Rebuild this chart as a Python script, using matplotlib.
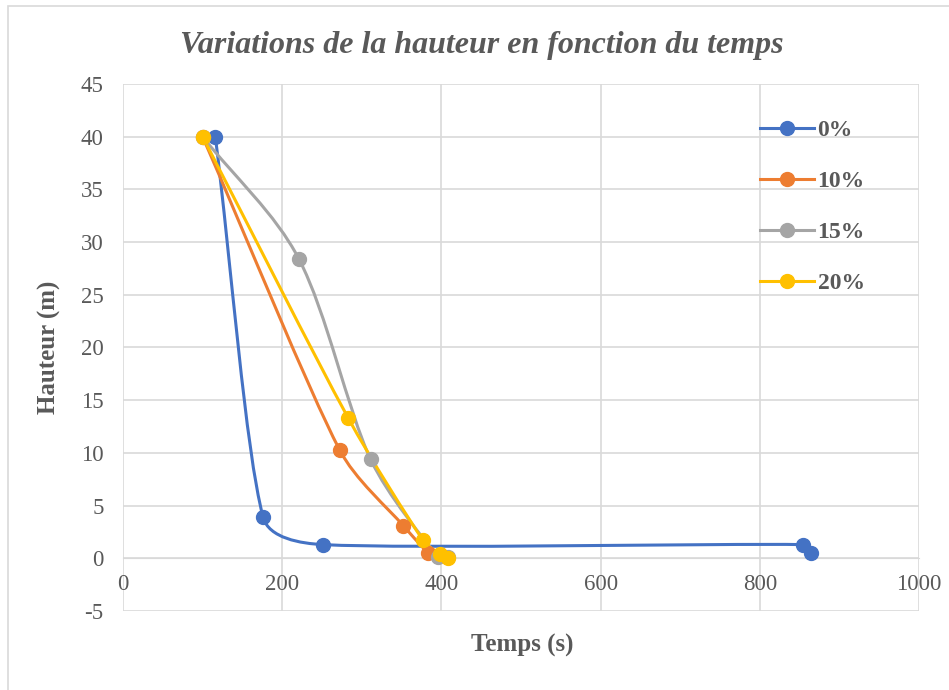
import numpy as np
import matplotlib
matplotlib.use("Agg")
import matplotlib.pyplot as plt
from matplotlib.path import Path
from matplotlib.patches import PathPatch, Rectangle
from matplotlib.lines import Line2D

plt.rcParams['font.family'] = ['Liberation Serif', 'DejaVu Serif']
plt.rcParams['axes.unicode_minus'] = False

# hauteur (m) en fonction du temps (s) pour chaque teneur
series = ['0%', '10%', '15%', '20%']
t_0 = [116, 176, 251, 854, 864]
h_0 = [40, 3.9, 1.3, 1.3, 0.5]
t_10 = [100, 272, 352, 383]
h_10 = [40, 10.3, 3.1, 0.5]
t_15 = [100, 221, 311, 396, 408]
h_15 = [40, 28.4, 9.4, 0.1, 0.1]
t_20 = [100, 283, 377, 398, 408]
h_20 = [40, 13.3, 1.7, 0.4, 0.0]
colors = ['#4472C4', '#ED7D31', '#A5A5A5', '#FFC000']

xmin, xmax = 0, 1000
ymin, ymax = -5, 45
W, H = 949, 690
grey = '#D9D9D9'
txt = '#595959'

fig = plt.figure(figsize=(W / 100, H / 100), dpi=100)
fig.patches.append(Rectangle((8 / W, -0.5), 1.5, 0.5 + (H - 6) / H,
                             transform=fig.transFigure, fill=False,
                             edgecolor=grey, lw=1.2))
ax = fig.add_axes([123 / W, 1 - 611 / H, (919 - 123) / W, (611 - 84) / H])


def smooth_path(x, y, pw, ph):
    # smoothed line through the points, tangents limited so short segments don't overshoot
    u = (np.asarray(x, float) - xmin) / (xmax - xmin) * pw
    v = (np.asarray(y, float) - ymin) / (ymax - ymin) * ph
    p = np.column_stack([u, v])
    n = len(p)
    tang = []
    for i in range(n):
        a = p[max(i - 1, 0)]
        b = p[min(i + 1, n - 1)]
        d = b - a
        tang.append((d / np.hypot(*d), np.hypot(*d)))
    verts = [p[0]]
    codes = [Path.MOVETO]
    for i in range(n - 1):
        L = np.hypot(*(p[i + 1] - p[i]))
        t1, c1len = tang[i]
        t2, c2len = tang[i + 1]
        k1 = c1len / 6 if 0 < i else L / 3
        k2 = c2len / 6 if i + 1 < n - 1 else L / 3
        c1 = p[i] + t1 * min(k1, L / 3)
        c2 = p[i + 1] - t2 * min(k2, L / 3)
        verts += [c1, c2, p[i + 1]]
        codes += [Path.CURVE4] * 3
    verts = np.array(verts)
    verts[:, 0] = verts[:, 0] / pw * (xmax - xmin) + xmin
    verts[:, 1] = verts[:, 1] / ph * (ymax - ymin) + ymin
    return Path(verts, codes)


data = [(t_0, h_0), (t_10, h_10), (t_15, h_15), (t_20, h_20)]
handles = []
for (t, h), c, name in zip(data, colors, series):
    ax.add_patch(PathPatch(smooth_path(t, h, 796, 527), fill=False,
                           edgecolor=c, lw=2.2, zorder=3, capstyle='round'))
    ax.plot(t, h, 'o', color=c, markersize=10, zorder=4)
    handles.append(Line2D([], [], color=c, lw=2.2, marker='o', markersize=10))

ax.set_xlim(xmin, xmax)
ax.set_ylim(ymin, ymax)
ax.set_xticks(np.arange(0, 1001, 200))
ax.set_yticks(np.arange(-5, 46, 5))
ax.grid(True, color=grey, lw=1.2)
ax.set_axisbelow(True)
for s in ['top', 'right', 'left']:
    ax.spines[s].set_visible(False)
ax.spines['bottom'].set_position(('data', 0))
ax.spines['bottom'].set_color(grey)
ax.tick_params(length=0, labelsize=16.5, labelcolor=txt)
ax.tick_params(axis='x', pad=11)
ax.tick_params(axis='y', pad=14)

ax.set_ylabel('Hauteur (m)', fontsize=18, fontweight='bold', color=txt, labelpad=14)
fig.text(522 / W, 1 - 645 / H, 'Temps (s)', fontsize=18, fontweight='bold',
         color=txt, ha='center', va='center')
fig.text(482 / W, 1 - 45 / H, 'Variations de la hauteur en fonction du temps',
         fontsize=23, fontstyle='italic', fontweight='bold', color=txt,
         ha='center', va='center')

leg = ax.legend(handles, series, loc='upper left', bbox_to_anchor=(0.788, 0.951),
                borderaxespad=0, frameon=False, numpoints=1, handlelength=2.3,
                handletextpad=0.15, labelspacing=1.25,
                prop={'size': 17, 'weight': 'bold'})
for tx in leg.get_texts():
    tx.set_color(txt)

fig.savefig('out.png', dpi=100)
